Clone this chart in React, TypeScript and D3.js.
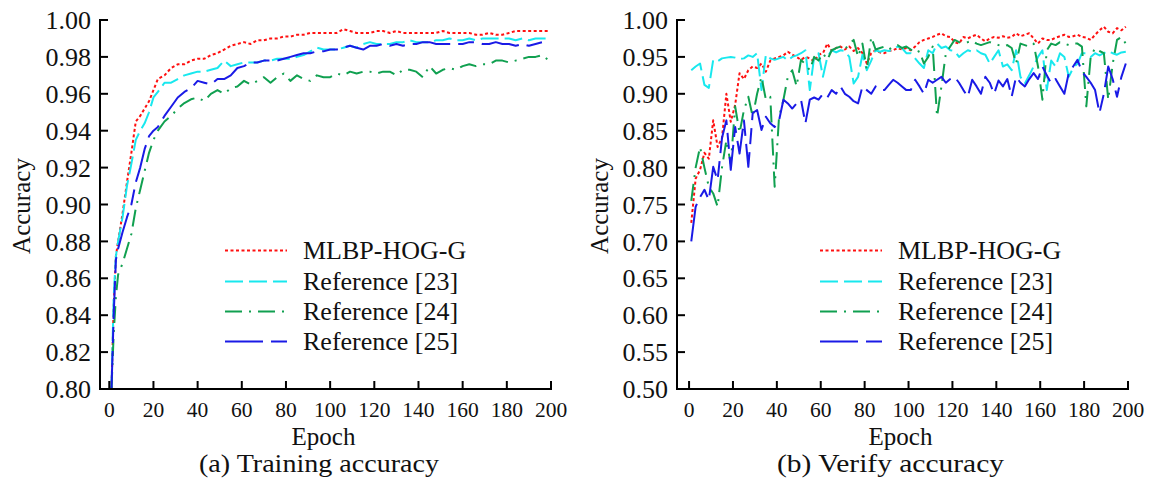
import React from 'react';
import * as d3 from 'd3';

// ---------- data ----------
const X_TICKS = [0, 20, 40, 60, 80, 100, 120, 140, 160, 180, 200];
const TRAIN_Y_TICKS = [0.8, 0.82, 0.84, 0.86, 0.88, 0.9, 0.92, 0.94, 0.96, 0.98, 1.0];
const VERIFY_Y_TICKS = [0.5, 0.55, 0.6, 0.65, 0.7, 0.75, 0.8, 0.85, 0.9, 0.95, 1.0];
const SERIES_NAMES = ['MLBP-HOG-G', 'Reference [23]', 'Reference [24]', 'Reference [25]'];

const TRAIN_EPOCHS = [1, 2, 3, 4, 6, 8, 10, 12, 14, 16, 18, 20,
  22, 25, 28, 31, 34, 37, 40, 43, 46, 49, 52, 55, 58, 61, 64, 67, 70, 73, 76, 79, 82, 85, 88, 91,
  94, 97, 100, 103, 106, 109, 112, 115, 118, 121, 124, 127, 130, 133, 136, 139, 142, 145, 148, 151,
  154, 157, 160, 163, 166, 169, 172, 175, 178, 181, 184, 187, 190, 193, 196, 199];

const TRAIN_MLBP = [0.800, 0.845, 0.872, 0.880, 0.895, 0.912, 0.928, 0.945, 0.948, 0.952, 0.956, 0.962,
  0.968, 0.970, 0.974, 0.976, 0.976, 0.978, 0.979, 0.979, 0.981, 0.982, 0.984, 0.986, 0.987, 0.988,
  0.987, 0.989, 0.989, 0.990, 0.990, 0.991, 0.991, 0.992, 0.992, 0.993, 0.993, 0.993, 0.993, 0.993,
  0.995, 0.994, 0.993, 0.993, 0.993, 0.994, 0.994, 0.993, 0.994, 0.993, 0.993, 0.993, 0.993, 0.993,
  0.993, 0.994, 0.993, 0.993, 0.993, 0.993, 0.992, 0.992, 0.993, 0.992, 0.992, 0.993, 0.994, 0.994,
  0.994, 0.994, 0.994, 0.994];
const TRAIN_R23 = [0.800, 0.850, 0.872, 0.880, 0.893, 0.910, 0.922, 0.935, 0.940, 0.944, 0.950, 0.958,
  0.961, 0.966, 0.966, 0.968, 0.970, 0.971, 0.972, 0.972, 0.973, 0.974, 0.978, 0.975, 0.976, 0.977,
  0.977, 0.977, 0.978, 0.978, 0.979, 0.979, 0.979, 0.980, 0.981, 0.983, 0.985, 0.984, 0.984, 0.984,
  0.985, 0.986, 0.985, 0.987, 0.988, 0.987, 0.987, 0.987, 0.988, 0.988, 0.989, 0.988, 0.988, 0.988,
  0.989, 0.989, 0.990, 0.989, 0.989, 0.990, 0.989, 0.990, 0.990, 0.990, 0.990, 0.990, 0.989, 0.990,
  0.989, 0.990, 0.990, 0.990];
const TRAIN_R24 = [0.800, 0.830, 0.850, 0.862, 0.868, 0.876, 0.884, 0.898, 0.908, 0.918, 0.928, 0.935,
  0.940, 0.945, 0.948, 0.952, 0.955, 0.957, 0.958, 0.956, 0.960, 0.962, 0.960, 0.963, 0.964, 0.967,
  0.965, 0.967, 0.969, 0.966, 0.969, 0.971, 0.967, 0.970, 0.968, 0.967, 0.970, 0.969, 0.969, 0.971,
  0.970, 0.972, 0.971, 0.972, 0.972, 0.971, 0.972, 0.972, 0.970, 0.973, 0.973, 0.972, 0.969, 0.975,
  0.971, 0.973, 0.974, 0.973, 0.975, 0.976, 0.975, 0.976, 0.976, 0.978, 0.978, 0.977, 0.978, 0.979,
  0.980, 0.980, 0.981, 0.978];
const TRAIN_R25 = [0.800, 0.840, 0.870, 0.876, 0.885, 0.893, 0.900, 0.912, 0.920, 0.930, 0.937, 0.940,
  0.942, 0.948, 0.953, 0.958, 0.961, 0.963, 0.967, 0.966, 0.965, 0.968, 0.968, 0.970, 0.974, 0.975,
  0.977, 0.977, 0.978, 0.978, 0.978, 0.979, 0.980, 0.981, 0.982, 0.982, 0.983, 0.983, 0.984, 0.984,
  0.985, 0.986, 0.985, 0.984, 0.986, 0.986, 0.987, 0.986, 0.987, 0.986, 0.987, 0.987, 0.988, 0.988,
  0.987, 0.987, 0.987, 0.987, 0.987, 0.988, 0.988, 0.987, 0.987, 0.988, 0.987, 0.987, 0.986, 0.987,
  0.986, 0.987, 0.988, 0.988];

const VERIFY_EPOCHS = [1, 3, 5, 7, 9, 11, 13, 15, 17, 19, 21, 23, 25, 27, 29, 31, 33, 35, 37, 39,
  41, 43, 45, 47, 49, 51, 53, 55, 57, 59, 61, 63, 65, 67, 69, 71, 73, 75, 77, 79,
  81, 83, 85, 87, 89, 91, 93, 95, 97, 99, 101, 103, 105, 107, 109, 111, 113, 115, 117, 119,
  121, 123, 125, 127, 129, 131, 133, 135, 137, 139, 141, 143, 145, 147, 149, 151, 153, 155, 157, 159,
  161, 163, 165, 167, 169, 171, 173, 175, 177, 179, 181, 183, 185, 187, 189, 191, 193, 195, 197, 199];

const VERIFY_MLBP = [
  0.725, 0.785, 0.797, 0.820, 0.812, 0.864, 0.828, 0.840, 0.900, 0.862,
  0.885, 0.928, 0.920, 0.932, 0.937, 0.935, 0.941, 0.930, 0.945, 0.948,
  0.950, 0.952, 0.957, 0.953, 0.950, 0.946, 0.950, 0.948, 0.944, 0.953,
  0.955, 0.968, 0.958, 0.962, 0.964, 0.960, 0.964, 0.958, 0.962, 0.955,
  0.941, 0.955, 0.959, 0.956, 0.955, 0.958, 0.959, 0.962, 0.960, 0.962,
  0.959, 0.964, 0.970, 0.973, 0.975, 0.977, 0.980, 0.982, 0.978, 0.977,
  0.970, 0.968, 0.977, 0.975, 0.978, 0.980, 0.975, 0.971, 0.975, 0.977,
  0.976, 0.978, 0.976, 0.977, 0.982, 0.978, 0.980, 0.982, 0.975, 0.968,
  0.975, 0.973, 0.973, 0.976, 0.978, 0.980, 0.977, 0.978, 0.980, 0.977,
  0.976, 0.973, 0.980, 0.986, 0.991, 0.984, 0.982, 0.989, 0.986, 0.991];
const VERIFY_R23 = [
  0.932, 0.937, 0.941, 0.912, 0.908, 0.946, 0.944, 0.948, 0.949, 0.950,
  0.949, 0.947, 0.948, 0.952, 0.950, 0.955, 0.905, 0.953, 0.948, 0.946,
  0.948, 0.950, 0.945, 0.950, 0.952, 0.955, 0.959, 0.905, 0.950, 0.955,
  0.923, 0.950, 0.959, 0.956, 0.959, 0.958, 0.950, 0.914, 0.923, 0.953,
  0.932, 0.945, 0.959, 0.957, 0.959, 0.958, 0.960, 0.964, 0.962, 0.955,
  0.955, 0.948, 0.941, 0.935, 0.959, 0.955, 0.968, 0.962, 0.964, 0.959,
  0.958, 0.950, 0.955, 0.959, 0.957, 0.959, 0.955, 0.953, 0.941, 0.950,
  0.959, 0.937, 0.940, 0.932, 0.959, 0.923, 0.914, 0.925, 0.937, 0.950,
  0.959, 0.905, 0.945, 0.937, 0.955, 0.950, 0.923, 0.935, 0.941, 0.955,
  0.955, 0.950, 0.955, 0.952, 0.955, 0.958, 0.955, 0.953, 0.956, 0.957];
const VERIFY_R24 = [
  0.755, 0.800, 0.828, 0.800, 0.774, 0.765, 0.747, 0.800, 0.837, 0.805,
  0.883, 0.847, 0.878, 0.896, 0.869, 0.900, 0.923, 0.892, 0.896, 0.774,
  0.869, 0.892, 0.923, 0.932, 0.910, 0.946, 0.940, 0.932, 0.950, 0.945,
  0.955, 0.946, 0.959, 0.962, 0.964, 0.960, 0.968, 0.973, 0.950, 0.968,
  0.932, 0.977, 0.960, 0.962, 0.964, 0.960, 0.964, 0.966, 0.962, 0.964,
  0.960, 0.955, 0.958, 0.941, 0.950, 0.964, 0.869, 0.910, 0.955, 0.964,
  0.973, 0.970, 0.968, 0.970, 0.972, 0.968, 0.966, 0.968, 0.970, 0.968,
  0.966, 0.964, 0.966, 0.962, 0.941, 0.968, 0.966, 0.964, 0.968, 0.937,
  0.892, 0.959, 0.968, 0.966, 0.970, 0.968, 0.966, 0.968, 0.968, 0.964,
  0.883, 0.950, 0.962, 0.958, 0.955, 0.892, 0.940, 0.973, 0.977, 0.968];
const VERIFY_R25 = [
  0.700, 0.747, 0.760, 0.770, 0.756, 0.801, 0.783, 0.840, 0.864, 0.797,
  0.855, 0.819, 0.864, 0.801, 0.874, 0.878, 0.851, 0.869, 0.860, 0.855,
  0.864, 0.892, 0.887, 0.880, 0.887, 0.892, 0.860, 0.892, 0.895, 0.892,
  0.900, 0.895, 0.905, 0.900, 0.910, 0.900, 0.896, 0.890, 0.887, 0.910,
  0.905, 0.900, 0.910, 0.905, 0.905, 0.912, 0.919, 0.915, 0.910, 0.905,
  0.905, 0.919, 0.910, 0.900, 0.919, 0.915, 0.919, 0.923, 0.915, 0.920,
  0.923, 0.915, 0.905, 0.896, 0.919, 0.910, 0.900, 0.923, 0.915, 0.900,
  0.918, 0.910, 0.920, 0.896, 0.923, 0.915, 0.910, 0.920, 0.928, 0.920,
  0.937, 0.925, 0.914, 0.920, 0.910, 0.900, 0.928, 0.937, 0.946, 0.930,
  0.923, 0.915, 0.905, 0.874, 0.900, 0.937, 0.920, 0.896, 0.923, 0.941];

// ---------- styles ----------
const STYLES = [
  { color: '#ff1010', dash: '3,2.5' },
  { color: '#18e8ee', dash: '18,6' },
  { color: '#10a050', dash: '17,7,2,7' },
  { color: '#1a1ae6', dash: '38,8,16,8' },
];
const FONT = '"Liberation Serif", "Times New Roman", serif';

type PanelProps = {
  xRange: [number, number];
  xDomain: [number, number];
  yDomain: [number, number];
  yTicks: number[];
  epochs: number[];
  series: number[][];
  legendX: number;
  title: string;
  titleX: number;
  titleLen: number;
  yLabelX: number;
};

function Panel(p: PanelProps) {
  const x = d3.scaleLinear().domain(p.xDomain).range(p.xRange);
  const y = d3.scaleLinear().domain(p.yDomain).range([389, 20]);
  const line = d3
    .line<number>()
    .x((_, i) => x(p.epochs[i]))
    .y((d) => y(d));
  const cx = (p.xRange[0] + p.xRange[1]) / 2;
  const fmt = d3.format('.2f');
  const legendRows = [250.5, 281.5, 311.5, 341.5];
  return (
    <g>
      {p.series.map((s, i) => (
        <path
          key={i}
          d={line(s) || ''}
          fill="none"
          stroke={STYLES[i].color}
          strokeWidth={2}
          strokeDasharray={STYLES[i].dash}
          strokeLinejoin="round"
        />
      ))}
      {/* axes */}
      <line x1={p.xRange[0]} x2={p.xRange[0]} y1={y(p.yDomain[1]) - 1} y2={390} stroke="#000" strokeWidth={2} />
      <line x1={p.xRange[0] - 1} x2={p.xRange[1] + 1} y1={389} y2={389} stroke="#000" strokeWidth={2} />
      {p.yTicks.map((t) => (
        <g key={'y' + t}>
          <line x1={p.xRange[0]} x2={p.xRange[0] + 8} y1={y(t)} y2={y(t)} stroke="#000" strokeWidth={2} />
          <text x={p.xRange[0] - 9} y={y(t)} dy="0.35em" textAnchor="end" fontSize={26} fontFamily={FONT} fill="#111">
            {fmt(t)}
          </text>
        </g>
      ))}
      {X_TICKS.map((t) => (
        <g key={'x' + t}>
          <line x1={x(t)} x2={x(t)} y1={389} y2={381} stroke="#000" strokeWidth={2} />
          <text x={x(t)} y={417} textAnchor="middle" fontSize={21.5} fontFamily={FONT} fill="#111">
            {t}
          </text>
        </g>
      ))}
      <text x={cx - 2} y={445} textAnchor="middle" fontSize={25} fontFamily={FONT} fill="#111">
        Epoch
      </text>
      <text
        x={p.titleX}
        y={472}
        fontSize={25}
        fontFamily={FONT}
        fill="#111"
        textLength={p.titleLen}
        lengthAdjust="spacingAndGlyphs"
      >
        {p.title}
      </text>
      <text
        transform={`translate(${p.yLabelX},206) rotate(-90)`}
        textAnchor="middle"
        fontSize={25}
        fontFamily={FONT}
        fill="#111"
      >
        Accuracy
      </text>
      {/* legend */}
      {SERIES_NAMES.map((name, i) => (
        <g key={name}>
          <line
            x1={p.legendX}
            x2={p.legendX + 62}
            y1={legendRows[i]}
            y2={legendRows[i]}
            stroke={STYLES[i].color}
            strokeWidth={2}
            strokeDasharray={STYLES[i].dash}
          />
          <text x={p.legendX + 78} y={legendRows[i] + 8.5} fontSize={26} fontFamily={FONT} fill="#111">
            {name}
          </text>
        </g>
      ))}
    </g>
  );
}

export default function App() {
  return (
    <svg
      width={1155}
      height={479}
      style={{ position: 'absolute', left: 0, top: 0, background: '#fff' }}
    >
      <rect width={1155} height={479} fill="#fff" />
      <Panel
        xRange={[100, 551]}
        xDomain={[-4.2, 200]}
        yDomain={[0.8, 1.0]}
        yTicks={TRAIN_Y_TICKS}
        epochs={TRAIN_EPOCHS}
        series={[TRAIN_MLBP, TRAIN_R23, TRAIN_R24, TRAIN_R25]}
        legendX={225}
        title="(a) Training accuracy"
        titleX={199}
        titleLen={240}
        yLabelX={30}
      />
      <Panel
        xRange={[677, 1128]}
        xDomain={[-5.5, 200]}
        yDomain={[0.5, 1.0]}
        yTicks={VERIFY_Y_TICKS}
        epochs={VERIFY_EPOCHS}
        series={[VERIFY_MLBP, VERIFY_R23, VERIFY_R24, VERIFY_R25]}
        legendX={820}
        title="(b) Verify accuracy"
        titleX={777}
        titleLen={227}
        yLabelX={608}
      />
    </svg>
  );
}
